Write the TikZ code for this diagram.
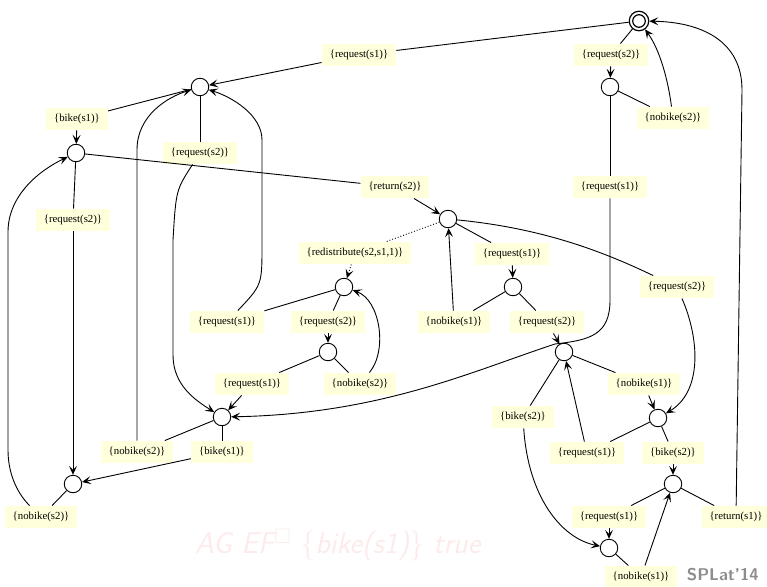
\documentclass[tikz,border=0pt]{standalone}
\usepackage{fontspec}
\usepackage{amssymb}
\setmainfont{Liberation Serif}
\usetikzlibrary{arrows.meta}
\definecolor{labfill}{HTML}{FFFFDC}
\definecolor{wmark}{HTML}{FDEBEB}
\definecolor{tagcol}{HTML}{8C8C8C}
\begin{document}
\begin{tikzpicture}[x=1pt,y=-1pt,
  state/.style={circle,draw,line width=0.9pt,minimum size=17.5pt,inner sep=0pt},
  lab/.style={fill=labfill,inner xsep=8pt,inner ysep=0pt,minimum height=22.5pt,
    font=\fontsize{10.8}{12}\selectfont},
  tr/.style={line width=0.9pt},
  arr/.style={tr,-{Stealth[length=9pt,width=8pt,inset=4pt]}}]
\useasboundingbox (0,0) rectangle (767,586);

% states
\node[state,minimum size=19.5pt,line width=1.2pt] (F) at (639,21) {};
\draw[line width=1.2pt] (F.center) circle[radius=6.3pt];
\node[state] (A) at (200,87) {};
\node[state] (B) at (76,153) {};
\node[state] (C) at (610,87) {};
\node[state] (D) at (448,219) {};
\node[state] (E) at (344,287) {};
\node[state] (G) at (328,352) {};
\node[state] (H) at (513,287) {};
\node[state] (I) at (564,352) {};
\node[state] (J) at (222,417) {};
\node[state] (K) at (73,484) {};
\node[state] (L) at (658,418) {};
\node[state] (M) at (673,484) {};
\node[state] (N) at (609,548) {};

% transition labels
\node[lab] (l1) at (359,55) {\{request(s1)\}};
\node[lab] (l2) at (611,55) {\{request(s2)\}};
\node[lab] (l3) at (673,118) {\{nobike(s2)\}};
\node[lab] (l4) at (610,187) {\{request(s1)\}};
\node[lab] (l5) at (77,119) {\{bike(s1)\}};
\node[lab] (l6) at (200,153) {\{request(s2)\}};
\node[lab] (l7) at (395,187) {\{return(s2)\}};
\node[lab] (l8) at (73,220) {\{request(s2)\}};
\node[lab] (l9) at (355,253) {\{redistribute(s2,s1,1)\}};
\node[lab] (l10) at (512,254) {\{request(s1)\}};
\node[lab] (l11) at (677,287) {\{request(s2)\}};
\node[lab] (l12) at (454,322) {\{nobike(s1)\}};
\node[lab] (l13) at (547,322) {\{request(s2)\}};
\node[lab] (l14) at (227,322) {\{request(s1)\}};
\node[lab] (l15) at (328,322) {\{request(s2)\}};
\node[lab] (l16) at (252,384) {\{request(s1)\}};
\node[lab] (l17) at (360,384) {\{nobike(s2)\}};
\node[lab] (l18) at (644,384) {\{nobike(s1)\}};
\node[lab] (l19) at (523,417) {\{bike(s2)\}};
\node[lab] (l20) at (587,453) {\{request(s1)\}};
\node[lab] (l21) at (673,453) {\{bike(s2)\}};
\node[lab] (l22) at (609,517) {\{request(s1)\}};
\node[lab] (l23) at (736,517) {\{return(s1)\}};
\node[lab] (l24) at (641,577) {\{nobike(s1)\}};
\node[lab] (l25) at (137,452) {\{nobike(s2)\}};
\node[lab] (l26) at (222,452) {\{bike(s1)\}};
\node[lab] (l27) at (41,517) {\{nobike(s2)\}};

% transitions: state -- label -> state
\draw[tr] (F) -- (l1);  \draw[arr] (l1) -- (A);
\draw[tr] (F) -- (l2);  \draw[arr] (l2) -- (C);
\draw[tr] (C) -- (l3);  \draw[arr] (l3) .. controls (668,80) and (660,50) .. (F);
\draw[tr] (C) -- (l4);
\draw[arr] (l4) -- (610,300) .. controls (610,335) and (590,340) .. (555,344)
  .. controls (470,372) and (380,414) .. (J);
\draw[tr] (A) -- (l5);  \draw[arr] (l5) -- (B);
\draw[tr] (A) -- (l6);
\draw[arr] (l6) .. controls (176,190) .. (173,240) -- (173,355)
  .. controls (173,385) and (195,400) .. (J);
\draw[tr] (B) -- (l7);  \draw[arr] (l7) -- (D);
\draw[tr] (B) -- (l8);  \draw[arr] (l8) -- (K);
\draw[tr,dotted] (D) -- (l9);  \draw[arr,dotted] (l9) -- (E);
\draw[tr] (D) -- (l10);  \draw[arr] (l10) -- (H);
\draw[tr] (D) .. controls (540,228) and (600,250) .. (l11);
\draw[arr] (l11) .. controls (700,340) and (702,392) .. (L);
\draw[tr] (H) -- (l12);  \draw[arr] (l12) -- (D);
\draw[tr] (H) -- (l13);  \draw[arr] (l13) -- (I);
\draw[tr] (E) -- (l14);
\draw[arr] (l14) .. controls (262,285) .. (262,245) -- (262,140)
  .. controls (262,115) and (232,97) .. (A);
\draw[tr] (E) -- (l15);  \draw[arr] (l15) -- (G);
\draw[tr] (G) -- (l16);  \draw[arr] (l16) -- (J);
\draw[tr] (G) -- (l17);  \draw[arr] (l17) .. controls (388,350) and (380,300) .. (E);
\draw[tr] (I) -- (l18);  \draw[arr] (l18) -- (L);
\draw[tr] (I) -- (l19);  \draw[arr] (l19) .. controls (528,495) and (560,538) .. (N);
\draw[tr] (L) -- (l20);  \draw[arr] (l20) -- (I);
\draw[tr] (L) -- (l21);  \draw[arr] (l21) -- (M);
\draw[tr] (M) -- (l22);  \draw[arr] (l22) -- (N);
\draw[tr] (M) -- (l23);
\draw[arr] (l23) -- (742,90) .. controls (742,40) and (700,22) .. (F);
\draw[tr] (N) -- (l24);  \draw[arr] (l24) -- (M);
\draw[tr] (J) -- (l25);
\draw[arr] (l25) -- (137,150) .. controls (137,115) and (168,97) .. (A);
\draw[tr] (J) -- (l26);  \draw[arr] (l26) -- (K);
\draw[tr] (K) -- (l27);
\draw[arr] (l27) .. controls (16,492) and (8,472) .. (8,450) -- (8,232)
  .. controls (8,195) and (40,170) .. (B);

% formula and venue tag
\node[anchor=base west,inner sep=0pt,text=wmark,
  font=\sffamily\itshape\fontsize{30}{32}\selectfont] (wm) at (195,553)
  {AG EF$^{\square}$ {\upshape\{}bike(s1){\upshape\}} true};
\node[anchor=base east,inner sep=0pt,text=tagcol,
  font=\sffamily\bfseries\fontsize{17}{19}\selectfont] (tag) at (759,580) {SPLat'14};
\end{tikzpicture}
\end{document}
